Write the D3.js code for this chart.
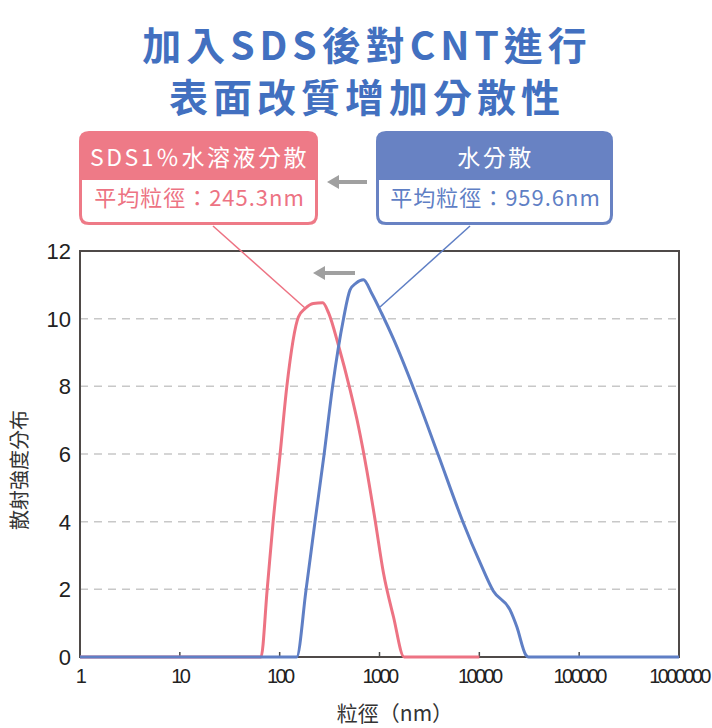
<!DOCTYPE html>
<html><head><meta charset="utf-8">
<script src="https://cdn.jsdelivr.net/npm/d3@7"></script>
<style>
body{margin:0;background:#fff;}
text{font-family:"Noto Sans CJK TC","Noto Sans",sans-serif;}
</style></head>
<body><svg id="c" width="712" height="728"></svg>
<script>
// ---- data ----
const titleLines = ["加入SDS後對CNT進行", "表面改質增加分散性"];
const seriesNames = ["SDS1％水溶液分散", "水分散"];
const meanLabels = ["平均粒徑：245.3nm", "平均粒徑：959.6nm"];
const xTicks = [1, 10, 100, 1000, 10000, 100000, 1000000];
const yTicks = [0, 2, 4, 6, 8, 10, 12];
const sdsSize = [1, 65, 75, 86, 101, 118, 154, 180, 217, 270, 309, 389, 507, 617, 745, 903, 1096, 1380, 1763, 2000, 10000];
const sdsVal  = [0, 0, 2.0, 4.0, 6.0, 8.0, 10.05, 10.3, 10.45, 10.47, 10.17, 9.2, 7.9, 6.8, 5.53, 4.05, 2.48, 1.19, 0, 0, 0];
const waterSize = [1, 148, 184, 226, 279, 339, 436, 507, 582, 690, 834, 1050, 1380, 2180, 3880, 6900, 10200, 13800, 20300, 23700, 29200, 31000, 1000000];
const waterVal  = [0, 0, 2.0, 4.0, 6.0, 8.0, 10.0, 10.85, 11.05, 11.15, 10.75, 10.16, 9.4, 7.96, 5.97, 3.97, 2.78, 1.95, 1.39, 0.9, 0.06, 0, 0];

const red = "#ED7383", blue = "#5F7FC5";
const redHead = "#EE7A87", blueHead = "#6882C3";
const svg = d3.select("#c");
const L = 80, R = 679, T = 251, B = 657;
const x = d3.scaleLog().domain([1, 1000000]).range([L, R]);
const y = d3.scaleLinear().domain([0, 12]).range([B, T]);

// title
svg.selectAll("text.title").data(titleLines).join("text")
  .attr("class","title")
  .attr("x", 367).attr("y", (d,i)=>60 + i*52)
  .attr("text-anchor","middle").attr("font-size",39).attr("font-weight","bold")
  .attr("letter-spacing",5).attr("fill","#4270C0").text(d=>d);

// gridlines
svg.append("g").selectAll("line").data(yTicks.filter(v=>v>0 && v<12)).join("line")
  .attr("x1", L).attr("x2", R).attr("y1", d=>y(d)).attr("y2", d=>y(d))
  .attr("stroke","#c8c8c8").attr("stroke-width",1.5).attr("stroke-dasharray","8,6");

// x ticks (inside, upward)
svg.append("g").selectAll("line").data(xTicks.slice(1,-1)).join("line")
  .attr("x1", d=>x(d)).attr("x2", d=>x(d)).attr("y1", B).attr("y2", B-5)
  .attr("stroke","#4a4a4a").attr("stroke-width",1.5);

// frame
svg.append("rect").attr("x",L).attr("y",T).attr("width",R-L).attr("height",B-T)
  .attr("fill","none").attr("stroke","#4f4a48").attr("stroke-width",2);

// y tick labels
svg.append("g").selectAll("text").data(yTicks).join("text")
  .attr("x", 71).attr("y", d=>y(d)+8).attr("text-anchor","end")
  .style("font-family","'Liberation Sans',Arial,sans-serif")
  .attr("font-size",22).attr("fill","#222").text(d=>d);

// x tick labels
svg.append("g").selectAll("text").data(xTicks).join("text")
  .attr("x", d=>x(d)).attr("y", 683).attr("text-anchor","middle")
  .style("font-family","'Liberation Sans',Arial,sans-serif")
  .attr("font-size",20).attr("letter-spacing",-2.6).attr("fill","#222").text(d=>d);

// axis titles
svg.append("text").attr("transform","translate(27,470) rotate(-90)")
  .attr("text-anchor","middle").attr("font-size",20).attr("fill","#333").text("散射強度分布");
svg.append("text").attr("x",395).attr("y",721).attr("text-anchor","middle")
  .attr("font-size",21).attr("fill","#333").text("粒徑（nm）");

// lines
const line = d3.line().x(d=>x(d[0])).y(d=>y(d[1])).curve(d3.curveMonotoneX);
svg.append("path").datum(sdsSize.map((s,i)=>[s,sdsVal[i]]))
  .attr("d", line).attr("fill","none").attr("stroke",red).attr("stroke-width",3);
svg.append("path").datum(waterSize.map((s,i)=>[s,waterVal[i]]))
  .attr("d", line).attr("fill","none").attr("stroke",blue).attr("stroke-width",3);

// leader lines
svg.append("line").attr("x1",213).attr("y1",226).attr("x2",305).attr("y2",308)
  .attr("stroke",red).attr("stroke-width",1.5);
svg.append("line").attr("x1",470).attr("y1",226).attr("x2",380).attr("y2",307)
  .attr("stroke",blue).attr("stroke-width",1.5);

// callout boxes
function box(x0, x1, head, col, title, body){
  const g = svg.append("g");
  const t0 = 131, mid = 180, b0 = 225, r = 10;
  g.append("path").attr("d",
    `M${x0},${mid} V${t0+r} Q${x0},${t0} ${x0+r},${t0} H${x1-r} Q${x1},${t0} ${x1},${t0+r} V${mid} Z`)
    .attr("fill", head);
  g.append("path").attr("d",
    `M${x0+1.5},${mid} V${b0-r} Q${x0+1.5},${b0-1.5} ${x0+r},${b0-1.5} H${x1-r} Q${x1-1.5},${b0-1.5} ${x1-1.5},${b0-r} V${mid}`)
    .attr("fill","#fff").attr("stroke", head).attr("stroke-width",3);
  g.append("text").attr("x",(x0+x1)/2 + 1).attr("y",166).attr("text-anchor","middle")
    .attr("font-size",23).attr("letter-spacing",2.5).attr("fill","#fff").text(title);
  g.append("text").attr("x",(x0+x1)/2 + 1).attr("y",206).attr("text-anchor","middle")
    .attr("font-size",22).attr("letter-spacing",1).attr("fill",col).text(body);
}
box(79, 318, redHead, red, seriesNames[0], meanLabels[0]);
box(376, 613, blueHead, blue, seriesNames[1], meanLabels[1]);

// grey arrows
function arrow(xs, xe, yy){
  svg.append("line").attr("x1",xs).attr("x2",xe+8).attr("y1",yy).attr("y2",yy)
    .attr("stroke","#a0a0a0").attr("stroke-width",4);
  svg.append("path").attr("d",`M${xe},${yy} L${xe+12},${yy-7} L${xe+12},${yy+7} Z`).attr("fill","#a0a0a0");
}
arrow(367, 327, 182);
arrow(355, 313, 273);
</script></body></html>
